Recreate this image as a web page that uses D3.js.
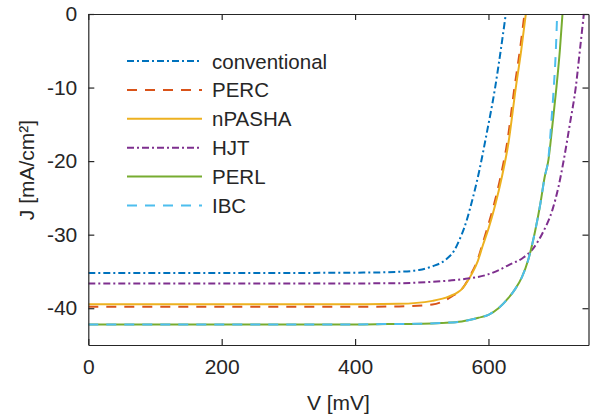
<!DOCTYPE html>
<html><head><meta charset="utf-8">
<script src="https://cdn.jsdelivr.net/npm/d3@7"></script>
<style>
html,body{margin:0;padding:0;background:#fff;}
svg{display:block;font-family:"Liberation Sans",Arial,Helvetica,sans-serif;}
</style></head>
<body><svg id="c" width="598" height="415"></svg>
<script>
// ---- data ----
const seriesNames = ["conventional","PERC","nPASHA","HJT","PERL","IBC"];
const xTicks = [0,200,400,600];
const yTicks = [0,-10,-20,-30,-40];

const convV = [0,300,420,466,496,516,536,549,556,564,574,586,597,610,618,626];
const convJ = [-35.2,-35.2,-35.15,-35.05,-34.8,-34.3,-33.4,-32.1,-30.8,-29.0,-25.9,-21.4,-16.4,-10.0,-5.2,0];

const percV = [0,400,466,516,531,545,561,573,583,590,598,608,618,628,639,647,654];
const percJ = [-39.8,-39.8,-39.75,-39.5,-39.1,-38.4,-37.3,-35.5,-33.6,-31.6,-29.2,-26.0,-22.2,-17.5,-10.0,-5.0,0];

const npashaV = [0,400,466,516,541,561,574,584,591,600,610,620,630,641,649,656];
const npashaJ = [-39.45,-39.45,-39.4,-39.0,-38.4,-37.3,-35.5,-33.6,-31.6,-29.2,-26.0,-22.2,-17.5,-10.0,-5.0,0];

const hjtV = [0,300,466,516,566,596,616,631,651,666,681,696,705,713,722,731,737,743];
const hjtJ = [-36.65,-36.65,-36.6,-36.4,-36.0,-35.5,-34.8,-34.1,-33.2,-32.0,-29.8,-26.6,-23.5,-19.8,-15.0,-9.9,-5.0,0];

const perlV = [0,400,450,500,530,560,585,600,615,630,640,650,660,670,678,684,690,696,702,707,711];
const perlJ = [-42.2,-42.2,-42.15,-42.1,-42.0,-41.8,-41.3,-40.9,-40.0,-38.6,-37.4,-35.8,-33.3,-29.5,-25.7,-22.3,-19.8,-15.0,-9.9,-5.0,0];

const ibcV = [0,400,450,500,530,560,585,600,615,630,640,650,660,670,678,684,690,694,698,701,703];
const ibcJ = [-42.2,-42.2,-42.15,-42.1,-42.0,-41.8,-41.3,-40.9,-40.0,-38.6,-37.4,-35.8,-33.3,-29.5,-25.7,-22.3,-19.5,-15.0,-9.9,-5.0,0];

// ---- styling ----
const colors = ["#0072BD","#D95319","#EDB120","#7E2F8E","#77AC30","#4DBEEE"];
const dashes = ["7,3,2,3","10,8",null,"7,3,2,3",null,"10,8"];
const seriesV = [convV,percV,npashaV,hjtV,perlV,ibcV];
const seriesJ = [convJ,percJ,npashaJ,hjtJ,perlJ,ibcJ];

const svg = d3.select("#c");
const L=88.3, R=588.5, T=14, B=345;
const x = d3.scaleLinear().domain([0,750]).range([L,R]);
const y = d3.scaleLinear().domain([-45,0]).range([B,T]);
const axisCol = "#262626";
const fs = 21;

svg.append("clipPath").attr("id","pc").append("rect")
  .attr("x",L).attr("y",T).attr("width",R-L).attr("height",B-T);

const line = d3.line().x(d=>x(d[0])).y(d=>y(d[1])).curve(d3.curveMonotoneX);
const g = svg.append("g").attr("clip-path","url(#pc)");
[0,1,2,3,4,5].forEach(i=>{
  const pts = seriesV[i].map((v,k)=>[v,seriesJ[i][k]]);
  g.append("path").datum(pts).attr("d",line)
    .attr("fill","none").attr("stroke",colors[i]).attr("stroke-width",2)
    .attr("stroke-dasharray",dashes[i]);
});

// axes (box with inward ticks on all sides)
const tick = 6;
const axB = svg.append("g").attr("transform",`translate(0,${B})`)
  .call(d3.axisBottom(x).tickValues(xTicks).tickSizeInner(-tick).tickSizeOuter(0).tickPadding(14));
const axT = svg.append("g").attr("transform",`translate(0,${T})`)
  .call(d3.axisTop(x).tickValues(xTicks).tickSizeInner(-tick).tickSizeOuter(0).tickFormat(""));
const axL = svg.append("g").attr("transform",`translate(${L},0)`)
  .call(d3.axisLeft(y).tickValues(yTicks).tickSizeInner(-tick).tickSizeOuter(0).tickPadding(11).tickFormat(d=>String(d)));
const axR = svg.append("g").attr("transform",`translate(${R},0)`)
  .call(d3.axisRight(y).tickValues(yTicks).tickSizeInner(-tick).tickSizeOuter(0).tickFormat(""));
[axB,axT,axL,axR].forEach(a=>{
  a.selectAll("path").attr("stroke",axisCol).attr("stroke-width",1.2);
  a.selectAll("line").attr("stroke",axisCol).attr("stroke-width",1.2);
  a.selectAll("text").attr("fill",axisCol).style("font-size",fs+"px")
    .style("font-family","'Liberation Sans',Arial,sans-serif");
});

// axis labels
svg.append("text").attr("x",(L+R)/2).attr("y",410).attr("text-anchor","middle")
  .attr("fill",axisCol).style("font-size",fs+"px").text("V [mV]");
svg.append("text").attr("transform",`translate(34,170) rotate(-90)`).attr("text-anchor","middle")
  .attr("fill",axisCol).style("font-size",fs+"px").text("J [mA/cm²]");

// legend
const lg = svg.append("g");
seriesNames.forEach((n,i)=>{
  const yy = 61 + i*28.9;
  lg.append("line").attr("x1",127).attr("x2",202).attr("y1",yy).attr("y2",yy)
    .attr("stroke",colors[i]).attr("stroke-width",2).attr("stroke-dasharray",dashes[i]);
  lg.append("text").attr("x",212).attr("y",yy+7.5).attr("fill",axisCol)
    .style("font-size","20.5px").text(n);
});
</script></body></html>
